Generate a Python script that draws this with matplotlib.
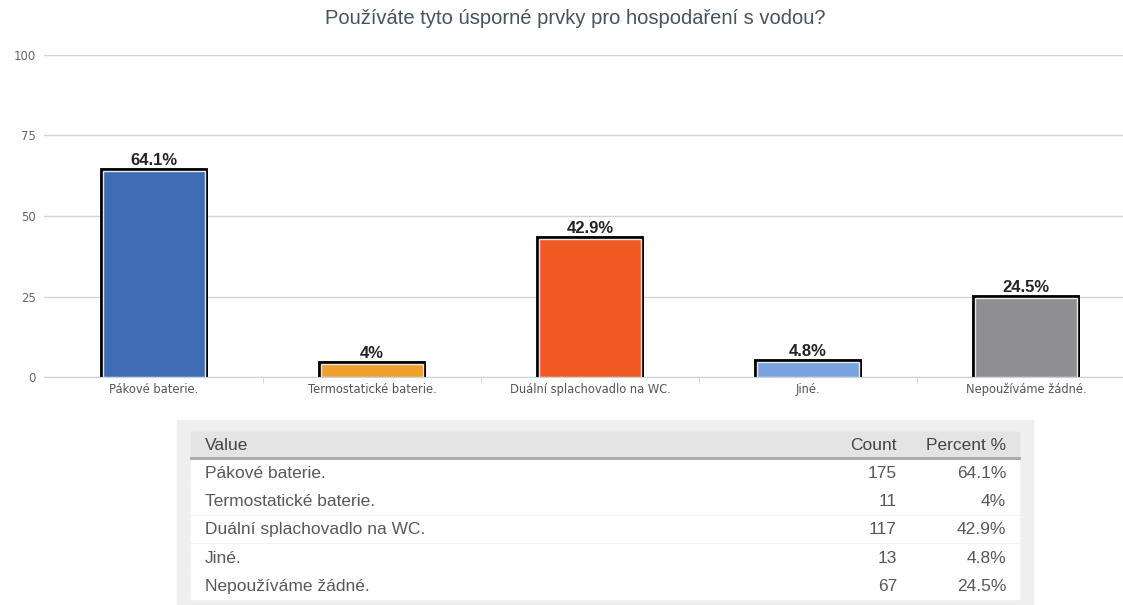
import matplotlib.pyplot as plt
import matplotlib.patheffects as pe
from matplotlib.patches import Rectangle

plt.rcParams['font.family'] = ['Liberation Sans', 'DejaVu Sans']

kategorie = ["Pákové baterie.", "Termostatické baterie.", "Duální splachovadlo na WC.", "Jiné.", "Nepoužíváme žádné."]
pocty = [175, 11, 117, 13, 67]
procenta = [64.1, 4, 42.9, 4.8, 24.5]
popisky = ["64.1%", "4%", "42.9%", "4.8%", "24.5%"]
barvy = ["#3f6cb3", "#f0a02c", "#f05a22", "#7aa4e0", "#8f8f92"]
y_ticks = [0, 25, 50, 75, 100]
titulek = "Používáte tyto úsporné prvky pro hospodaření s vodou?"

W, H = 1123, 605
fig = plt.figure(figsize=(W / 100, H / 100), dpi=100)

# graf
ax = fig.add_axes([44 / W, (H - 377) / H, (W - 44) / W, (377 - 55) / H])
x = list(range(len(kategorie)))
bars = ax.bar(x, procenta, width=0.47, color=barvy, edgecolor="#e8e8e8", linewidth=1, zorder=3)
for b in bars:
    b.set_path_effects([pe.SimplePatchShadow(offset=(2.2, 0), shadow_rgbFace="black", alpha=1),
                        pe.Stroke(linewidth=4.2, foreground="black"), pe.Normal()])
ax.bar_label(bars, labels=popisky, padding=2, fontsize=12, fontweight="bold", color="#222222")
ax.set_xlim(-0.505, 4.445)
ax.set_ylim(0, 100)
ax.set_yticks(y_ticks)
ax.set_yticklabels([str(t) for t in y_ticks], fontsize=8.5, color="#666666", family="DejaVu Sans")
ax.set_xticks(x)
ax.set_xticklabels(kategorie, fontsize=8.3, color="#555555", family="DejaVu Sans")
ax.set_xticks([i + 0.5 for i in x[:-1]], minor=True)
ax.tick_params(axis="x", which="major", length=0, pad=4)
ax.tick_params(axis="x", which="minor", length=4, color="#c8d2dc", direction="out")
ax.tick_params(axis="y", length=0, pad=6)
ax.grid(axis="y", color="#d4d4d4", linewidth=1, zorder=0)
for s in ["top", "right", "left"]:
    ax.spines[s].set_visible(False)
ax.spines["bottom"].set_color("#c6d2de")
ax.spines["bottom"].set_zorder(4)

fig.text(575 / W, 1 - 18 / H, titulek, ha="center", va="center", fontsize=14.5, color="#45535f")

# tabulka
fs = 12.5
tb = fig.add_axes([0, 0, 1, 1])
tb.set_xlim(0, W)
tb.set_ylim(H, 0)
tb.axis("off")
tb.add_patch(Rectangle((177, 420), 1033 - 177, 190, color="#efefef", zorder=0))
tb.add_patch(Rectangle((191, 432), 1019 - 191, 26, color="#e4e4e4", zorder=1))
tb.plot([191, 1019], [458, 458], color="#a8a8a8", linewidth=2, zorder=2)
tb.text(205, 445, "Value", fontsize=fs, color="#444444", va="center")
tb.text(897, 445, "Count", fontsize=fs, color="#444444", va="center", ha="right")
tb.text(1006, 445, "Percent %", fontsize=fs, color="#444444", va="center", ha="right")
rh = 28.3
for i in range(len(kategorie)):
    top = 459 + i * rh
    tb.add_patch(Rectangle((191, top), 1019 - 191, rh - 1.5, color="white", zorder=1))
    yc = top + rh / 2
    tb.text(205, yc, kategorie[i], fontsize=fs, color="#585858", va="center")
    tb.text(897, yc, str(pocty[i]), fontsize=fs, color="#585858", va="center", ha="right")
    tb.text(1006, yc, popisky[i], fontsize=fs, color="#585858", va="center", ha="right")

fig.savefig("out.png", dpi=100)
